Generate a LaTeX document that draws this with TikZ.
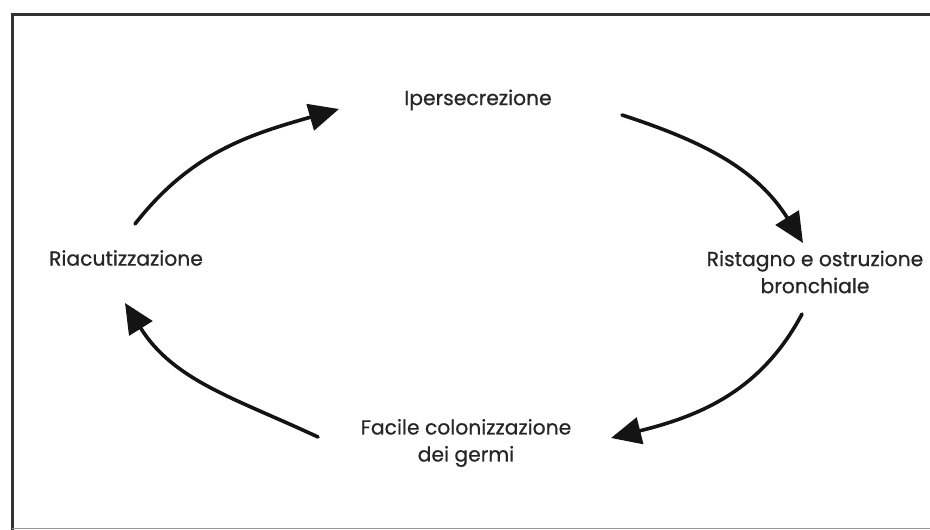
\documentclass[tikz,border=0pt]{standalone}
\usepackage{fontspec}
\setmainfont{Poppins}
\newfontfamily\lblfont[BoldFont=Poppins,BoldFeatures={FakeBold=0.7}]{Poppins}
\usetikzlibrary{arrows.meta}
\begin{document}
\begin{tikzpicture}[x=1pt,y=1pt,
  lbl/.style={font=\lblfont\bfseries\fontsize{20.3}{27}\selectfont, text=black!85, align=center, inner sep=0pt},
  cyc/.style={line width=3.6pt, black!92, -{Triangle[length=30pt,width=27pt]}, line cap=round}]
\useasboundingbox (0,0) rectangle (930,-530);
\draw[line width=3pt, black!80] (11,-14) -- (930,-14);
\draw[line width=3pt, black!80] (12.5,-12.5) -- (12.5,-530);
\draw[line width=1.5pt, black!40] (12,-528.5) -- (930,-528.5);

\node[lbl] (ip) at (478,-100) {Ipersecrezione};
\node[lbl] (ri) at (126,-258) {Riacutizzazione};
\node[lbl] (rs) at (815,-272) {Ristagno e ostruzione\\bronchiale};
\node[lbl] (fc) at (466,-443) {Facile colonizzazione\\dei germi};

\coordinate (a1s) at (135,-224);
\coordinate (a1e) at (339,-109);
\coordinate (a2s) at (622,-115);
\coordinate (a2e) at (803,-243);
\coordinate (a3s) at (802,-314);
\coordinate (a3e) at (611,-438);
\coordinate (a4s) at (318,-437);
\coordinate (a4e) at (125,-303);

\draw[cyc] (a1s) to[out=52,in=196] (a1e);
\draw[cyc] (a2s) to[out=-18,in=122] (a2e);
\draw[cyc] (a3s) to[out=-118,in=14] (a3e);
\draw[cyc] (a4s) to[out=155,in=-58] (a4e);
\end{tikzpicture}
\end{document}
